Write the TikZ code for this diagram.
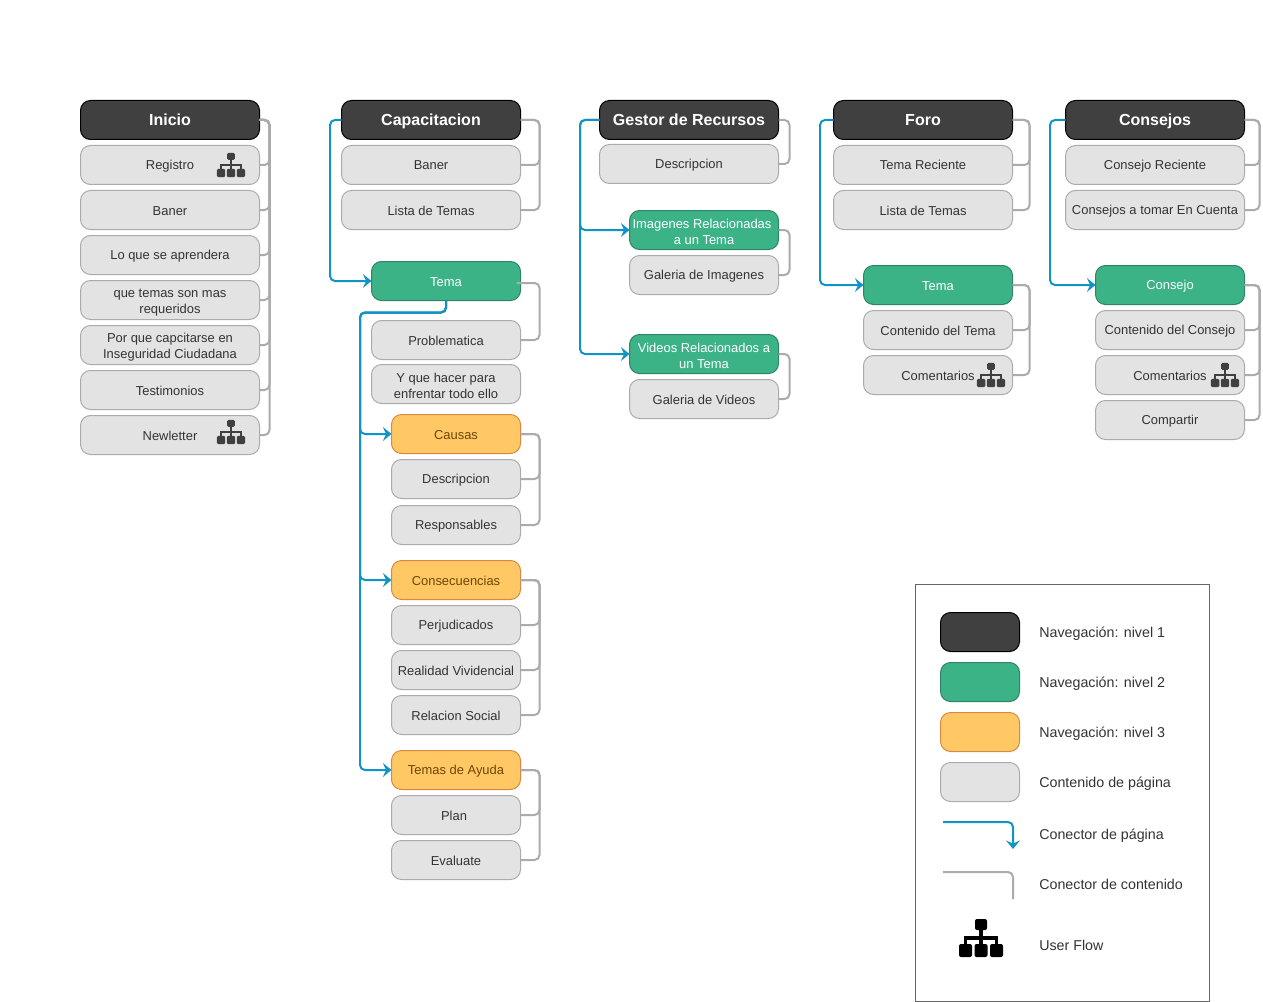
\documentclass[tikz,border=0pt]{standalone}
\usepackage{fontspec}
\setmainfont{Liberation Sans}
\usetikzlibrary{arrows.meta,calc}
\definecolor{navone}{HTML}{404040}
\definecolor{navtwo}{HTML}{3CB287}
\definecolor{navthree}{HTML}{FFC864}
\definecolor{pagegray}{HTML}{E3E3E3}
\definecolor{pageline}{HTML}{ABABAB}
\definecolor{flowblue}{HTML}{1193C4}
\definecolor{inktext}{HTML}{333333}
\definecolor{subtext}{HTML}{6E4505}
\newcommand{\linestrut}[2]{\rule[-#2]{0pt}{\dimexpr#1+#2\relax}}
\newcommand{\twoup}{\rule{0pt}{11pt}}
\tikzset{
  basebox/.style={rounded corners=7.5pt,align=center,inner sep=0pt,outer sep=0pt,
    minimum height=29.25pt,line width=0.75pt,font=\fontsize{9.7}{12}\selectfont,
    execute at begin node={\linestrut{9.5pt}{2pt}},execute at end node={\linestrut{9.5pt}{2pt}}},
  titlebox/.style={basebox,draw=black,fill=navone,text=white,minimum width=134.25pt,
    font=\fontsize{12}{14}\selectfont\bfseries,
    execute at begin node={\linestrut{11.1pt}{2.5pt}}},
  levelbox/.style={basebox,draw=navtwo!75!black,fill=navtwo,text=white},
  subbox/.style={basebox,draw=navthree!80!red!85!black,fill=navthree,text=subtext},
  pagebox/.style={basebox,draw=pageline,fill=pagegray,text=inktext},
  legendtext/.style={anchor=base west,inner sep=0pt,text=inktext,font=\fontsize{10.7}{12}\selectfont},
  contline/.style={draw=pageline,line width=1.5pt,rounded corners=3.75pt},
  flowline/.style={draw=flowblue,line width=1.5pt,rounded corners=3.75pt,
    -{Stealth[length=6.5pt,width=10.5pt,inset=2.5pt]}}
}
% small org-chart mark: x, y, scale, colour
\newcommand{\flowmark}[4]{
  \begin{scope}[shift={(#1,#2)},x=#3*0.75pt,y=-#3*0.75pt]
    \draw[#4,line width=#3*2.4pt] (0,-8) -- (0,6) (-15.5,6) -- (-15.5,0) -- (15.5,0) -- (15.5,6);
    \fill[#4,rounded corners=#3*1.5pt] (-6,-19) rectangle (6,-8);
    \foreach \c in {-15.5,0,15.5} {
      \fill[#4,rounded corners=#3*1.5pt] (\c-6.5,6) rectangle (\c+6.5,19);
    }
  \end{scope}
}

\begin{document}
\begin{tikzpicture}[x=0.75pt,y=-0.75pt]
  \useasboundingbox (0,0) rectangle (1263,1002);

  % titles
  \foreach \nm/\x/\txt in {inicio/170/Inicio,capa/431/Capacitacion,gestor/689/Gestor de Recursos,foro/923/Foro,consejos/1155/Consejos} {
    \node[titlebox] (\nm) at (\x,120) {\txt};
  }

  % wide page boxes
  \foreach \nm/\x/\y/\txt in {
    regi/170/165/Registro,baner/170/210/Baner,apren/170/255/Lo que se aprendera,
    temas/170/300/{\twoup que temas son mas\\requeridos},porque/170/345/{\twoup Por que capcitarse en\\Inseguridad Ciudadana},
    testi/170/390/Testimonios,news/170/435/Newletter,
    capaA/431/165/Baner,capaB/431/210/Lista de Temas,
    gestorA/689/164/Descripcion,
    foroA/923/165/Tema Reciente,foroB/923/210/Lista de Temas,
    consA/1155/165/Consejo Reciente,consB/1155/210/Consejos a tomar En Cuenta} {
    \node[pagebox,minimum width=134.25pt] (\nm) at (\x,\y) {\txt};
  }

  % green boxes
  \foreach \nm/\x/\y/\txt in {
    temaA/446/281/Tema,imag/704/230/{\twoup Imagenes Relacionadas\hspace*{3pt}\\a un Tema},
    video/704/354/{\twoup Videos Relacionados a\\un Tema},temaB/938/285/Tema,conse/1170/285/Consejo} {
    \node[levelbox,minimum width=111.75pt] (\nm) at (\x,\y) {\txt};
  }

  % narrow page boxes
  \foreach \nm/\x/\y/\txt in {
    probl/446/340/Problematica,yque/446/384/{\twoup Y que hacer para\\enfrentar todo ello},
    imagA/704/275/Galeria de Imagenes,videoA/704/399/Galeria de Videos,
    temaBa/938/330/Contenido del Tema,temaBb/938/375/Comentarios,
    conseA/1170/330/Contenido del Consejo,conseB/1170/375/Comentarios,conseC/1170/420/Compartir} {
    \node[pagebox,minimum width=111.75pt] (\nm) at (\x,\y) {\txt};
  }

  % orange boxes
  \foreach \nm/\y/\txt in {causas/434/Causas,consec/580/Consecuencias,ayuda/770/Temas de Ayuda} {
    \node[subbox,minimum width=96.75pt] (\nm) at (456,\y) {\txt};
  }

  % third level page boxes
  \foreach \nm/\y/\txt in {
    causA/479/Descripcion,causB/525/Responsables,
    consecA/625/Perjudicados,consecB/670/Realidad Vividencial,consecC/715/Relacion Social,
    ayudaA/815/Plan\hspace{3pt},ayudaB/860/Evaluate} {
    \node[pagebox,minimum width=96.75pt] (\nm) at (456,\y) {\txt};
  }

  % content connectors
  \foreach \a/\b/\dx in {
    inicio/regi/10,inicio/baner/10,inicio/apren/10,inicio/temas/10,inicio/porque/10,inicio/testi/10,inicio/news/10,
    capa/capaA/19,capa/capaB/19,
    causas/causA/19,causas/causB/19,
    consec/consecA/19,consec/consecB/19,consec/consecC/19,
    ayuda/ayudaA/19,ayuda/ayudaB/19,
    gestor/gestorA/11,imag/imagA/11,video/videoA/11,
    foro/foroA/17,foro/foroB/17,temaB/temaBa/17,temaB/temaBb/17,
    consejos/consA/15,consejos/consB/15,conse/conseA/15,conse/conseB/15,conse/conseC/15} {
    \draw[contline] (\a.east) -- ++(\dx,0) |- (\b.east);
  }
  \draw[contline] ($(temaA.east)+(-4,2)$) -- ++(23,0) |- (probl.east);

  % page connectors
  \foreach \a/\b/\dx in {capa/temaA/11.5,gestor/imag/19.5,gestor/video/19.5,foro/temaB/13.5,consejos/conse/15.5} {
    \draw[flowline] (\a.west) -- ++(-\dx,0) |- (\b.west);
  }
  \foreach \b in {causas,consec,ayuda} {
    \draw[flowline] (temaA.south) -- ++(0,12) -| (360,350) |- (\b.west);
  }

  % user flow marks
  \flowmark{231}{165}{0.64}{navone}
  \flowmark{231}{432}{0.64}{navone}
  \flowmark{991}{375}{0.64}{navone}
  \flowmark{1225}{375}{0.64}{navone}

  % legend
  \draw[line width=0.75pt,draw=black!60] (915,584) rectangle (1209,1001);
  \node[titlebox,minimum width=59.25pt] (keyA) at (980,632) {};
  \node[levelbox,minimum width=59.25pt] (keyB) at (980,682) {};
  \node[subbox,minimum width=59.25pt] (keyC) at (980,732) {};
  \node[pagebox,minimum width=59.25pt] (keyD) at (980,782) {};
  \foreach \nm/\y/\txt in {
    labA/637/Navegación: nivel 1,labB/687/Navegación: nivel 2,labC/737/Navegación: nivel 3,
    labD/787/Contenido de página,labE/839/Conector de página,labF/889/Conector de contenido,labG/950.5/User Flow} {
    \node[legendtext] (\nm) at (1039,\y) {\txt};
  }
  \coordinate (flowS) at (943,822);
  \coordinate (flowE) at (1013,849);
  \coordinate (contS) at (943,872);
  \coordinate (contE) at (1013,899);
  \draw[flowline] (flowS) -| (flowE);
  \draw[contline] (contS) -| (contE);
  \flowmark{981}{938}{1}{black}
\end{tikzpicture}
\end{document}
